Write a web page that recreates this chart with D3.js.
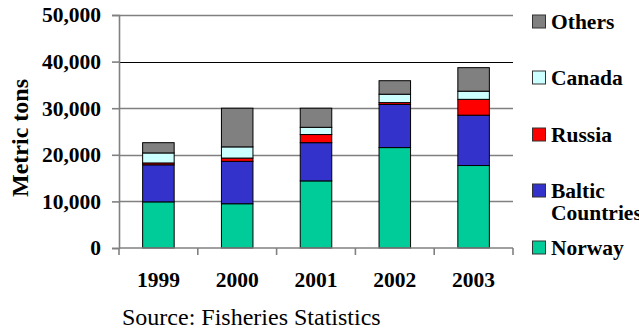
<!DOCTYPE html>
<html>
<head>
<meta charset="utf-8">
<script src="https://cdn.jsdelivr.net/npm/d3@7"></script>
<style>
  html, body { margin: 0; padding: 0; background: #fff; }
  svg { display: block; }
</style>
</head>
<body>
<svg id="chart" width="639" height="330"></svg>
<script>
const years = ["1999", "2000", "2001", "2002", "2003"];
const seriesNames = ["Norway", "Baltic Countries", "Russia", "Canada", "Others"];
const norway = [9900, 9500, 14400, 21550, 17700];
const baltic = [7950, 9100, 8200, 9250, 10800];
const russia = [400, 700, 1750, 400, 3400];
const canada = [2150, 2400, 1550, 1800, 1750];
const others = [2200, 8300, 4100, 2900, 5050];
const yTicks = [0, 10000, 20000, 30000, 40000, 50000];
const colors = ["#00CC99", "#3333CC", "#FF0000", "#CCFFFF", "#808080"];
const legendOrder = ["Others", "Canada", "Russia", "Baltic Countries", "Norway"];

const FONT = "'Liberation Serif', 'Times New Roman', Tinos, serif";
const seriesValues = [norway, baltic, russia, canada, others];
const rows = years.map((yr, i) => {
  const r = { year: yr };
  seriesNames.forEach((s, j) => r[s] = seriesValues[j][i]);
  return r;
});

const svg = d3.select("#chart");
const mLeft = 119, mRight = 513, mTop = 15, mBottom = 248;

const x = d3.scaleBand().domain(years).range([mLeft, mRight]).paddingInner(0.6).paddingOuter(0.3);
const xCat = d3.scaleBand().domain(years).range([mLeft, mRight]).padding(0);
const y = d3.scaleLinear().domain([0, 50000]).range([mBottom, mTop]);
const color = d3.scaleOrdinal().domain(seriesNames).range(colors);

// gridlines
svg.append("g").selectAll("line").data(yTicks.filter(d => d > 0)).join("line")
  .attr("x1", mLeft).attr("x2", mRight)
  .attr("y1", d => Math.round(y(d)) + 0.5).attr("y2", d => Math.round(y(d)) + 0.5)
  .attr("stroke", d => d === 40000 ? "#000" : "#808080")
  .attr("stroke-width", d => d === 40000 ? 1 : 1.6);

// stacked bars
const stack = d3.stack().keys(seriesNames)(rows);
svg.append("g").selectAll("g").data(stack).join("g")
  .attr("fill", d => color(d.key))
  .selectAll("rect").data(d => d).join("rect")
  .attr("x", d => x(d.data.year))
  .attr("width", x.bandwidth())
  .attr("y", d => y(d[1]))
  .attr("height", d => y(d[0]) - y(d[1]))
  .attr("stroke", "#000")
  .attr("stroke-width", 1);

// y axis
const yAxis = svg.append("g").attr("transform", `translate(${mLeft},0)`)
  .call(d3.axisLeft(y).tickValues(yTicks).tickFormat(d3.format(",")).tickSize(7).tickPadding(11));
yAxis.attr("font-family", null).attr("font-size", null);
yAxis.select(".domain").attr("stroke", "#808080").attr("stroke-width", 1.6);
yAxis.selectAll(".tick line").attr("stroke", "#808080").attr("stroke-width", 1.6);
yAxis.selectAll(".tick text").style("font-size", "21.5px").style("font-weight", "bold")
  .attr("fill", "#000").style("font-family", FONT);

// x axis line
svg.append("line").attr("x1", mLeft).attr("x2", mRight)
  .attr("y1", mBottom).attr("y2", mBottom)
  .attr("stroke", "#808080").attr("stroke-width", 1.6);
// x ticks at category boundaries
const bounds = years.map(d => xCat(d)).concat([mRight]);
svg.append("g").selectAll("line").data(bounds).join("line")
  .attr("x1", d => d).attr("x2", d => d)
  .attr("y1", mBottom).attr("y2", mBottom + 7)
  .attr("stroke", "#808080").attr("stroke-width", 1.6);
// x labels
svg.append("g").selectAll("text").data(years).join("text")
  .attr("x", d => xCat(d) + xCat.bandwidth() / 2)
  .attr("y", 287)
  .attr("text-anchor", "middle")
  .style("font-family", FONT).style("font-size", "21.5px").style("font-weight", "bold")
  .text(d => d);

// y title
svg.append("text")
  .attr("transform", `translate(28,138) rotate(-90)`)
  .attr("text-anchor", "middle")
  .style("font-family", FONT).style("font-size", "24px").style("font-weight", "bold")
  .text("Metric tons");

// source
svg.append("text")
  .attr("x", 122).attr("y", 325)
  .style("font-family", FONT).style("font-size", "24px")
  .text("Source: Fisheries Statistics");

// legend
const legendY = { "Others": 29, "Canada": 85, "Russia": 142, "Baltic Countries": 198, "Norway": 255 };
const lg = svg.append("g");
legendOrder.forEach(name => {
  const by = legendY[name];
  lg.append("rect")
    .attr("x", 532.5).attr("y", by - 14)
    .attr("width", 13).attr("height", 13)
    .attr("fill", color(name))
    .attr("stroke", "#333").attr("stroke-width", 1);
  const lines = name === "Baltic Countries" ? ["Baltic", "Countries"] : [name];
  lines.forEach((t, k) => {
    lg.append("text").attr("x", 551).attr("y", by + k * 22)
      .style("font-family", FONT).style("font-size", "21.5px").style("font-weight", "bold")
      .text(t);
  });
});
</script>
</body>
</html>
